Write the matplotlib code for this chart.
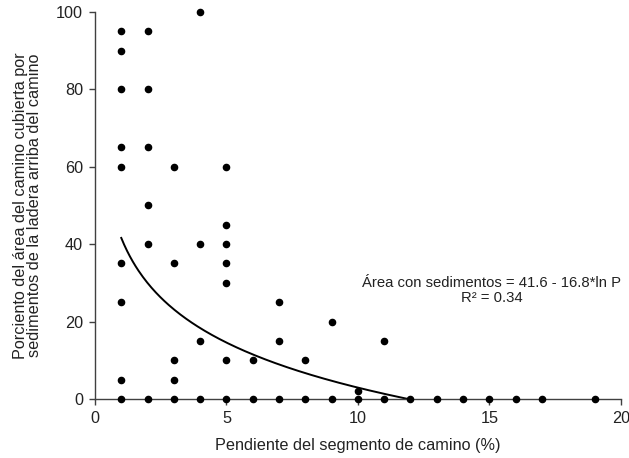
import numpy as np
import matplotlib
matplotlib.use("Agg")
import matplotlib.pyplot as plt

plt.rcParams['font.family'] = ['Liberation Sans', 'DejaVu Sans']

# Road segment slope (%) and share of road area covered by hillslope sediment (%)
pendiente = [1, 1, 1, 1, 1, 1, 1, 1, 1,
             2, 2, 2, 2, 2, 2,
             3, 3, 3, 3, 3,
             4, 4, 4, 4,
             5, 5, 5, 5, 5, 5, 5,
             6, 6,
             7, 7, 7,
             8, 8,
             9, 9,
             10, 10,
             11, 11,
             12, 13, 14, 15, 16, 17, 19]
area = [95, 90, 80, 65, 60, 35, 25, 5, 0,
        95, 80, 65, 50, 40, 0,
        60, 35, 10, 5, 0,
        100, 40, 15, 0,
        60, 45, 40, 35, 30, 10, 0,
        10, 0,
        25, 15, 0,
        10, 0,
        20, 0,
        2, 0,
        15, 0,
        0, 0, 0, 0, 0, 0, 0]

# Logarithmic fit: Area = a + b*ln(P)
a_fit = 41.6
b_fit = -16.8
r2 = 0.34

fig = plt.figure(figsize=(6.29, 4.58), dpi=100)
ax = fig.add_axes([0.151, 0.129, 0.836, 0.845])

ax.scatter(pendiente, area, s=20, color='black', zorder=3, clip_on=False)

p_end = np.exp(-a_fit / b_fit)
p = np.linspace(1, p_end, 200)
ax.plot(p, a_fit + b_fit * np.log(p), color='black', lw=1.4, zorder=2)

ax.set_xlim(0, 20)
ax.set_ylim(0, 100)
ax.set_xticks([0, 5, 10, 15, 20])
ax.set_yticks([0, 20, 40, 60, 80, 100])
for s in ['top', 'right']:
    ax.spines[s].set_visible(False)
for s in ['left', 'bottom']:
    ax.spines[s].set_linewidth(1.0)
    ax.spines[s].set_color('#404040')
ax.tick_params(direction='out', length=4, width=1.0, colors='#404040',
               labelcolor='#222222', labelsize=11.7, pad=4.5)

ax.set_xlabel('Pendiente del segmento de camino (%)', fontsize=11.7,
              color='#222222', labelpad=9)
ax.set_ylabel('Porciento del área del camino cubierta por\n'
              'sedimentos de la ladera arriba del camino', fontsize=11.7,
              color='#222222', labelpad=10, linespacing=0.95)

ax.text(15.1, 28.0, 'Área con sedimentos = 41.6 - 16.8*ln P\n'
        f'R² = {r2:.2f}', ha='center', va='center', fontsize=10.7,
        color='#222222', linespacing=1.1)

fig.savefig('out.png', dpi=100)
